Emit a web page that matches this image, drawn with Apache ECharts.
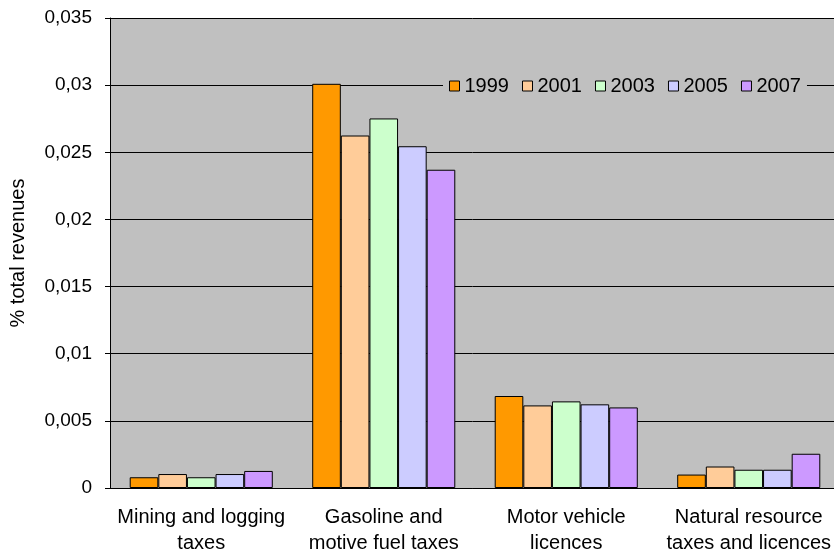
<!DOCTYPE html>
<html>
<head>
<meta charset="utf-8">
<script src="https://cdn.jsdelivr.net/npm/echarts@6/dist/echarts.min.js"></script>
<style>
  html, body { margin: 0; padding: 0; background: #fff; }
  #main { width: 834px; height: 553px; }
</style>
</head>
<body>
<div id="main"></div>
<script>
// categories and series values (share of total revenues)
var categories = [
  'Mining and logging\ntaxes',
  'Gasoline and\nmotive fuel taxes',
  'Motor vehicle\nlicences',
  'Natural resource\ntaxes and licences'
];
var years = ['1999', '2001', '2003', '2005', '2007'];
var v1999 = [0.0008, 0.0301, 0.00685, 0.001];
var v2001 = [0.00104, 0.02625, 0.00615, 0.0016];
var v2003 = [0.0008, 0.02752, 0.00645, 0.00136];
var v2005 = [0.00104, 0.02545, 0.00623, 0.00136];
var v2007 = [0.00127, 0.0237, 0.006, 0.00255];
var colors = ['#FF9900', '#FFCC99', '#CCFFCC', '#CCCCFF', '#CC99FF'];

var values = [v1999, v2001, v2003, v2005, v2007];
var font = 'Liberation Sans, Arial, sans-serif';

var chart = echarts.init(document.getElementById('main'));
chart.setOption({
  animation: false,
  backgroundColor: '#fff',
  grid: {
    left: 110, top: 18, bottom: 65, right: -6,
    outerBoundsMode: 'none', containLabel: false,
    show: true, backgroundColor: '#C0C0C0', borderWidth: 0
  },
  legend: {
    data: years,
    icon: 'rect',
    left: 443, top: 73,
    itemWidth: 10, itemHeight: 10, itemGap: 13,
    backgroundColor: '#C0C0C0',
    padding: [3, 6],
    textStyle: { fontFamily: font, fontSize: 20, color: '#000' },
    itemStyle: { borderColor: '#000', borderWidth: 1 }
  },
  xAxis: {
    type: 'category',
    data: categories,
    axisLine: { lineStyle: { color: '#000' } },
    axisTick: { length: 6, lineStyle: { color: '#000' } },
    axisLabel: { color: '#000', fontFamily: font, fontSize: 20, lineHeight: 26, margin: 16, interval: 0 }
  },
  yAxis: {
    type: 'value',
    min: 0, max: 0.035, interval: 0.005,
    name: '% total revenues',
    nameLocation: 'middle',
    nameGap: 82,
    nameTextStyle: { color: '#000', fontFamily: font, fontSize: 20 },
    axisLine: { show: true, lineStyle: { color: '#000' } },
    axisTick: { show: true, length: 5, lineStyle: { color: '#000' } },
    splitLine: { lineStyle: { color: '#000', width: 1 } },
    axisLabel: {
      color: '#000', fontFamily: font, fontSize: 19, margin: 18,
      formatter: function (v) { return String(+v.toFixed(3)).replace('.', ','); }
    }
  },
  series: years.map(function (y, i) {
    return {
      name: y,
      type: 'bar',
      data: values[i],
      barGap: 0,
      barCategoryGap: '21.6%',
      itemStyle: { color: colors[i], borderColor: '#000', borderWidth: 1 }
    };
  })
});
</script>
</body>
</html>
